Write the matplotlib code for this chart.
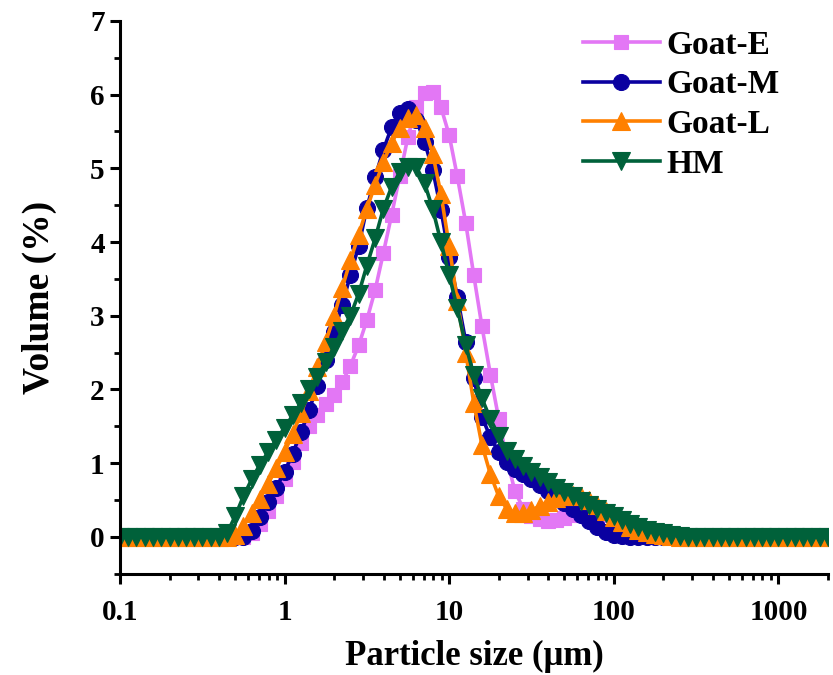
import numpy as np
import matplotlib
matplotlib.use("Agg")
import matplotlib.pyplot as plt
from matplotlib.ticker import LogLocator, MultipleLocator, NullFormatter

plt.rcParams["font.family"] = ["Liberation Serif", "DejaVu Serif"]
plt.rcParams["font.weight"] = "bold"

# particle size classes (um)
size_um = [
    0.1, 0.112, 0.126, 0.141, 0.158, 0.178, 0.2, 0.224, 0.251, 0.282,
    0.316, 0.355, 0.398, 0.447, 0.501, 0.562, 0.631, 0.708, 0.794, 0.891,
    1.0, 1.12, 1.26, 1.41, 1.58, 1.78, 2.0, 2.24, 2.51, 2.82,
    3.16, 3.55, 3.98, 4.47, 5.01, 5.62, 6.31, 7.08, 7.94, 8.91,
    10.0, 11.2, 12.6, 14.1, 15.8, 17.8, 20.0, 22.4, 25.1, 28.2,
    31.6, 35.5, 39.8, 44.7, 50.1, 56.2, 63.1, 70.8, 79.4, 89.1,
    100, 112, 126, 141, 158, 178, 200, 224, 251, 282,
    316, 355, 398, 447, 501, 562, 631, 708, 794, 891,
    1000, 1122, 1259, 1413, 1585, 1778, 1995,
]

# volume (%) per class
goat_e = [
    0, 0, 0, 0, 0, 0, 0, 0, 0, 0,
    0, 0, 0, 0, 0.0, 0.0, 0.05, 0.18, 0.35, 0.55,
    0.78, 1.02, 1.28, 1.5, 1.66, 1.8, 1.93, 2.1, 2.32, 2.6,
    2.94, 3.35, 3.85, 4.37, 4.9, 5.43, 5.83, 6.02, 6.03, 5.83,
    5.45, 4.89, 4.26, 3.55, 2.86, 2.2, 1.6, 1.05, 0.62, 0.38,
    0.28, 0.24, 0.22, 0.23, 0.26, 0.3, 0.33, 0.35, 0.34, 0.3,
    0.24, 0.17, 0.1, 0.05, 0.02, 0, 0, 0, 0, 0,
    0, 0, 0, 0, 0, 0, 0, 0, 0, 0,
    0, 0, 0, 0, 0, 0, 0,
]
goat_m = [
    0, 0, 0, 0, 0, 0, 0, 0, 0, 0,
    0, 0, 0, 0, 0, 0, 0.08, 0.27, 0.47, 0.67,
    0.88, 1.13, 1.42, 1.72, 2.05, 2.4, 2.78, 3.15, 3.55, 3.95,
    4.46, 4.88, 5.25, 5.56, 5.75, 5.8, 5.66, 5.36, 4.98, 4.44,
    3.8, 3.26, 2.65, 2.16, 1.63, 1.35, 1.15, 1.02, 0.92, 0.85,
    0.78, 0.7, 0.62, 0.54, 0.46, 0.38, 0.3, 0.22, 0.14, 0.07,
    0.03, 0.01, 0, 0, 0, 0, 0, 0, 0, 0,
    0, 0, 0, 0, 0, 0, 0, 0, 0, 0,
    0, 0, 0, 0, 0, 0, 0,
]
goat_l = [
    0, 0, 0, 0, 0, 0, 0, 0, 0, 0,
    0, 0, 0, 0, 0.03, 0.15, 0.32, 0.52, 0.72, 0.93,
    1.15, 1.4, 1.68, 1.98, 2.3, 2.65, 3.0, 3.38, 3.75, 4.1,
    4.45, 4.78, 5.08, 5.35, 5.55, 5.68, 5.72, 5.55, 5.2, 4.65,
    3.95, 3.2, 2.5, 1.82, 1.25, 0.85, 0.55, 0.38, 0.33, 0.33,
    0.36, 0.42, 0.48, 0.53, 0.56, 0.57, 0.55, 0.5, 0.43, 0.35,
    0.27, 0.2, 0.14, 0.09, 0.06, 0.04, 0.02, 0.01, 0, 0,
    0, 0, 0, 0, 0, 0, 0, 0, 0, 0,
    0, 0, 0, 0, 0, 0, 0,
]
hm = [
    0, 0, 0, 0, 0, 0, 0, 0, 0, 0,
    0, 0, 0, 0.05, 0.28, 0.55, 0.78, 0.98, 1.15, 1.32,
    1.48, 1.65, 1.82, 2.0, 2.17, 2.37, 2.58, 2.8, 3.0, 3.3,
    3.68, 4.05, 4.45, 4.75, 4.95, 5.02, 5.02, 4.8, 4.45, 4.0,
    3.55, 3.1, 2.6, 2.2, 1.88, 1.6, 1.37, 1.17, 1.05, 0.96,
    0.88, 0.81, 0.74, 0.67, 0.61, 0.55, 0.49, 0.43, 0.38, 0.33,
    0.28, 0.23, 0.18, 0.14, 0.1, 0.07, 0.05, 0.03, 0.01, 0,
    0, 0, 0, 0, 0, 0, 0, 0, 0, 0,
    0, 0, 0, 0, 0, 0, 0,
]

series = [
    ("Goat-E", goat_e, "#E377F5", "s", 10.5),
    ("Goat-M", goat_m, "#0A00A0", "o", 11.5),
    ("Goat-L", goat_l, "#FF8000", "^", 12.5),
    ("HM", hm, "#00613A", "v", 12.5),
]

fig = plt.figure(figsize=(8.33, 6.75), dpi=100)
ax = fig.add_axes([0.144, 0.150, 0.850, 0.819])

for name, vals, col, mk, ms in series:
    ax.plot(size_um, vals, color=col, lw=2.6, marker=mk, ms=ms,
            mec=col, mfc=col, mew=0.8, label=name)

ax.set_xscale("log")
ax.set_xlim(0.1, 2000)
ax.set_ylim(-0.5, 7)

ax.set_xticks([0.1, 1, 10, 100, 1000])
ax.set_xticklabels(["0.1", "1", "10", "100", "1000"])
ax.xaxis.set_minor_locator(LogLocator(base=10, subs=np.arange(2, 10)))
ax.xaxis.set_minor_formatter(NullFormatter())
ax.set_yticks(range(0, 8))
ax.yaxis.set_minor_locator(MultipleLocator(0.5))

for s in ["top", "right"]:
    ax.spines[s].set_visible(False)
for s in ["left", "bottom"]:
    ax.spines[s].set_linewidth(2.2)

ax.tick_params(which="major", direction="out", length=7, width=2.2,
               labelsize=21, pad=4)
ax.tick_params(axis="x", which="major", pad=11)
ax.tick_params(which="minor", direction="out", length=4, width=2.0)

ax.set_xlabel("Particle size (\u03bcm)", fontsize=25, fontweight="bold", labelpad=10)
ax.set_ylabel("Volume (%)", fontsize=27, fontweight="bold", labelpad=24)

ax.legend(loc="upper left", bbox_to_anchor=(0.692, 0.966), bbox_transform=fig.transFigure,
          frameon=False, fontsize=24, handlelength=2.3, handletextpad=0.2,
          labelspacing=0.26, borderpad=0.2, borderaxespad=0)

fig.savefig("out.png", dpi=100)
